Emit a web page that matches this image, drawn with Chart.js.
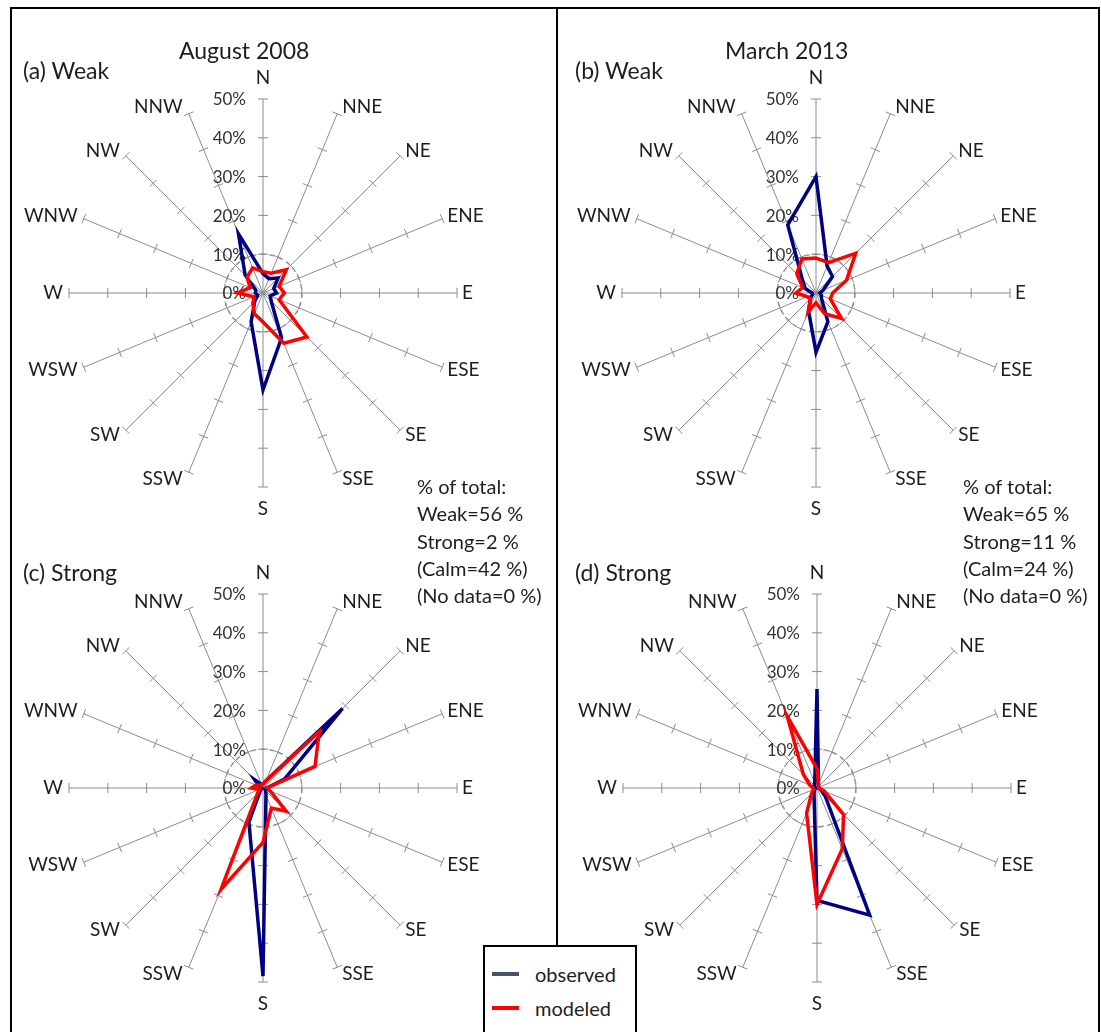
<!DOCTYPE html>
<html>
<head>
<meta charset="utf-8">
<script src="https://cdn.jsdelivr.net/npm/chart.js@4/dist/chart.umd.min.js"></script>
<style>
    body { margin: 0; background: #fff; font-family: Lato, "Open Sans", sans-serif; color: #1e1e1e; }
    #page { position: relative; width: 1101px; height: 1032px; overflow: hidden; background: #fff; }
    canvas { position: absolute; }
    .txt { position: absolute; white-space: nowrap; line-height: 28px; }
    .frame { position: absolute; border: 2px solid #000; box-sizing: border-box; }
    .vline { position: absolute; background: #000; }
</style>
</head>
<body>
<div id="page">
    <div class="frame" style="left:10px; top:7px; width:1090px; height:1040px;"></div>
    <div class="vline" style="left:556px; top:7px; width:2px; height:940px;"></div>

    <canvas id="chartA" width="520" height="520"></canvas>
    <canvas id="chartB" width="520" height="520"></canvas>
    <canvas id="chartC" width="520" height="520"></canvas>
    <canvas id="chartD" width="520" height="520"></canvas>

    <div class="txt" style="left:179px; top:36px; font-size:23px;">August 2008</div>
    <div class="txt" style="left:725px; top:36px; font-size:23px;">March 2013</div>
    <div class="txt" style="left:23px; top:56px; font-size:23px;">(a) Weak</div>
    <div class="txt" style="left:575px; top:56px; font-size:23px;">(b) Weak</div>
    <div class="txt" style="left:23px; top:558px; font-size:23px;">(c) Strong</div>
    <div class="txt" style="left:575px; top:558px; font-size:23px;">(d) Strong</div>

    <div class="txt" id="noteA" style="left:417px; top:473px; font-size:20px; line-height:27.3px;"></div>
    <div class="txt" id="noteB" style="left:963px; top:473px; font-size:20px; line-height:27.3px;"></div>

    <div class="frame" style="left:483px; top:945px; width:154px; height:100px; background:#fff;"></div>
    <div class="vline" style="left:492px; top:972px; width:27px; height:4px; background:#44546a;"></div>
    <div class="vline" style="left:492px; top:1006px; width:27px; height:4px; background:#ff0000;"></div>
    <div class="txt" style="left:535px; top:960px; font-size:20px;">observed</div>
    <div class="txt" style="left:535px; top:994px; font-size:20px;">modeled</div>
</div>
<script>
// wind directions, clockwise from north
const directions = ['N', 'NNE', 'NE', 'ENE', 'E', 'ESE', 'SE', 'SSE', 'S', 'SSW', 'SW', 'WSW', 'W', 'WNW', 'NW', 'NNW'];
const tickValues = [0, 10, 20, 30, 40, 50];
const tickLabels = ['0%', '10%', '20%', '30%', '40%', '50%'];

// frequency (%) per direction
const aug2008WeakObserved = [5, 4, 5.5, 3, 3.5, 2, 3, 12.5, 25, 8, 3, 1.5, 2, 2, 6.5, 16.5];
const aug2008WeakModeled = [5.5, 5.5, 8.5, 4.5, 5.5, 4.5, 16, 14, 7.5, 5.8, 3.7, 2.5, 6.5, 3.6, 5.8, 7];
const mar2013WeakObserved = [30, 7.5, 6, 2, 1, 1.5, 2, 8, 15.3, 5, 2, 1, 1, 3, 5, 19];
const mar2013WeakModeled = [9, 8.5, 14.5, 8.5, 4.3, 4, 9.3, 5.8, 2.5, 5.3, 2, 2.5, 5.2, 3.7, 7, 9.5];
const aug2008StrongObserved = [1, 2, 29, 6, 1, 0.5, 1, 2, 48.5, 9.5, 1, 0.5, 0.5, 1, 3, 1];
const aug2008StrongModeled = [1, 2, 20.5, 14.5, 1, 2, 8.5, 5.6, 14, 28.3, 2, 1, 3, 2, 1, 1];
const mar2013StrongObserved = [25.5, 1, 0.5, 0.5, 0.5, 1, 3, 35.5, 29, 2, 1, 0.5, 0.5, 1, 1, 1.5];
const mar2013StrongModeled = [5, 1, 0.5, 0.5, 0.5, 2, 9.7, 17, 30, 7, 2, 1, 1, 2, 5, 20];

const notesAug2008 = ['% of total:', 'Weak=56 %', 'Strong=2 %', '(Calm=42 %)', '(No data=0 %)'];
const notesMar2013 = ['% of total:', 'Weak=65 %', 'Strong=11 %', '(Calm=24 %)', '(No data=0 %)'];

document.getElementById('noteA').innerHTML = notesAug2008.join('<br>');
document.getElementById('noteB').innerHTML = notesMar2013.join('<br>');

const CANVAS_SIZE = 520;
const RADIUS = 194;

// tick marks on the spokes, % labels on the N spoke and the compass labels
const roseDecor = {
    id: 'roseDecor',
    beforeDatasetsDraw(chart) {
        const r = chart.scales.r;
        const ctx = chart.ctx;
        ctx.save();
        ctx.strokeStyle = '#8c8c8c';
        ctx.lineWidth = 1;
        directions.forEach((d, i) => {
            const angle = r.getIndexAngle(i) - Math.PI / 2;
            const px = -Math.sin(angle), py = Math.cos(angle);
            tickValues.slice(1).forEach(v => {
                const p = r.getPointPositionForValue(i, v);
                ctx.beginPath();
                ctx.moveTo(p.x + px * 5, p.y + py * 5);
                ctx.lineTo(p.x - px * 5, p.y - py * 5);
                ctx.stroke();
            });
        });

        ctx.fillStyle = '#333';
        ctx.font = '17px Lato';
        ctx.textAlign = 'right';
        ctx.textBaseline = 'middle';
        tickValues.forEach((v, k) => {
            const p = r.getPointPositionForValue(0, v);
            ctx.fillText(tickLabels[k], p.x - 17, p.y + 1);
        });

        ctx.fillStyle = '#1e1e1e';
        ctx.font = '19px Lato';
        directions.forEach((d, i) => {
            const theta = i * Math.PI / 8;
            const end = r.getPointPositionForValue(i, 50);
            const s = Math.sin(theta), c = Math.cos(theta);
            if (i === 0 || i === 8) {
                ctx.textAlign = 'center';
                ctx.fillText(d, end.x, end.y + (i === 0 ? -21 : 22));
            } else {
                ctx.textAlign = s > 0 ? 'left' : 'right';
                ctx.fillText(d, end.x + (s > 0 ? 5 : -6), end.y - 7 * c);
            }
        });
        ctx.restore();
    }
};

function drawRose(id, cx, cy, observed, modeled) {
    const canvas = document.getElementById(id);
    canvas.style.left = (cx - CANVAS_SIZE / 2) + 'px';
    canvas.style.top = (cy - CANVAS_SIZE / 2) + 'px';
    new Chart(canvas.getContext('2d'), {
        type: 'radar',
        data: {
            labels: directions,
            datasets: [
                { label: 'modeled', data: modeled, borderColor: '#ff0000', borderWidth: 3.5, pointRadius: 0, fill: false, order: 0 },
                { label: 'observed', data: observed, borderColor: '#000080', borderWidth: 3.5, pointRadius: 0, fill: false, order: 1 }
            ]
        },
        options: {
            responsive: false,
            animation: false,
            layout: { padding: CANVAS_SIZE / 2 - RADIUS },
            plugins: { legend: { display: false }, tooltip: { enabled: false } },
            elements: { line: { tension: 0, borderJoinStyle: 'miter' } },
            scales: {
                r: {
                    min: 0,
                    max: 50,
                    ticks: { display: false, stepSize: 10 },
                    pointLabels: { display: false },
                    angleLines: { color: '#8c8c8c', lineWidth: 1 },
                    grid: {
                        circular: true,
                        color: c => (c.tick && c.tick.value === 10) ? '#9a9a9a' : 'rgba(0,0,0,0)',
                        lineWidth: 1.5
                    },
                    border: { dash: [5, 4] }
                }
            }
        },
        plugins: [roseDecor]
    });
}

drawRose('chartA', 263, 293, aug2008WeakObserved, aug2008WeakModeled);
drawRose('chartB', 816, 293, mar2013WeakObserved, mar2013WeakModeled);
drawRose('chartC', 263, 788, aug2008StrongObserved, aug2008StrongModeled);
drawRose('chartD', 817, 788, mar2013StrongObserved, mar2013StrongModeled);
</script>
</body>
</html>
